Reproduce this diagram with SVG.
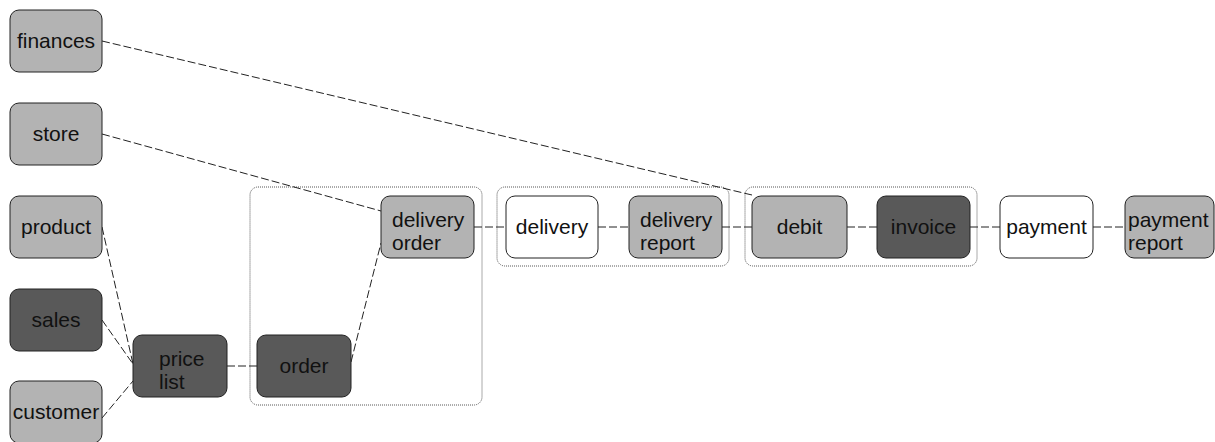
<svg xmlns="http://www.w3.org/2000/svg" width="1215" height="442" viewBox="0 0 1215 442">
<style>
.n{stroke:#222;stroke-width:1}
.lg{fill:#b3b3b3}
.dg{fill:#595959}
.wh{fill:#ffffff}
.grp{fill:none;stroke:#555;stroke-width:1;stroke-dasharray:1 1}
.c{fill:none;stroke:#222;stroke-width:1;stroke-dasharray:8 3}
text{font-family:"Liberation Sans",Arial,sans-serif;font-size:21px;fill:#111}
.m{text-anchor:middle}
</style>
<rect width="1215" height="442" fill="#fff"/>
<g id="groups">
<rect id="group-order" class="grp" x="250" y="187" width="232" height="218" rx="8"/>
<rect id="group-delivery" class="grp" x="497" y="187" width="232" height="79" rx="8"/>
<rect id="group-billing" class="grp" x="745" y="187" width="232" height="79" rx="8"/>
</g>
<g id="connectors">
<line class="c" x1="102" y1="41" x2="752" y2="195"/>
<line class="c" x1="102" y1="134" x2="381" y2="211"/>
<line class="c" x1="102" y1="227" x2="133" y2="364"/>
<line class="c" x1="102" y1="320" x2="133" y2="364"/>
<line class="c" x1="102" y1="418" x2="133" y2="381"/>
<line class="c" x1="227" y1="366" x2="257" y2="366"/>
<line class="c" x1="351" y1="362" x2="381" y2="243"/>
<line class="c" x1="474" y1="227" x2="506" y2="227"/>
<line class="c" x1="598" y1="227" x2="629" y2="227"/>
<line class="c" x1="722" y1="227" x2="752" y2="227"/>
<line class="c" x1="847" y1="227" x2="877" y2="227"/>
<line class="c" x1="970" y1="227" x2="1000" y2="227"/>
<line class="c" x1="1093" y1="227" x2="1125" y2="227"/>
</g>
<g id="finances"><rect class="n lg" x="10" y="10" width="92" height="62" rx="9"/><text class="m" x="56" y="48">finances</text></g>
<g id="store"><rect class="n lg" x="10" y="103" width="92" height="62" rx="9"/><text class="m" x="56" y="141">store</text></g>
<g id="product"><rect class="n lg" x="10" y="196" width="92" height="62" rx="9"/><text class="m" x="56" y="234">product</text></g>
<g id="sales"><rect class="n dg" x="10" y="289" width="92" height="62" rx="9"/><text class="m" x="56" y="327">sales</text></g>
<g id="customer"><rect class="n lg" x="10" y="381" width="92" height="62" rx="9"/><text class="m" x="56" y="419">customer</text></g>
<g id="price-list"><rect class="n dg" x="133" y="335" width="94" height="62" rx="9"/><text x="159" y="366">price</text><text x="159" y="389">list</text></g>
<g id="order"><rect class="n dg" x="257" y="335" width="94" height="62" rx="9"/><text class="m" x="304" y="373">order</text></g>
<g id="delivery-order"><rect class="n lg" x="381" y="196" width="93" height="62" rx="9"/><text x="392" y="227">delivery</text><text x="392" y="250">order</text></g>
<g id="delivery"><rect class="n wh" x="506" y="196" width="92" height="62" rx="9"/><text class="m" x="552" y="234">delivery</text></g>
<g id="delivery-report"><rect class="n lg" x="629" y="196" width="93" height="62" rx="9"/><text x="640" y="227">delivery</text><text x="640" y="250">report</text></g>
<g id="debit"><rect class="n lg" x="752" y="196" width="95" height="62" rx="9"/><text class="m" x="799.5" y="234">debit</text></g>
<g id="invoice"><rect class="n dg" x="877" y="196" width="93" height="62" rx="9"/><text class="m" x="923.5" y="234">invoice</text></g>
<g id="payment"><rect class="n wh" x="1000" y="196" width="93" height="62" rx="9"/><text class="m" x="1046.5" y="234">payment</text></g>
<g id="payment-report"><rect class="n lg" x="1125" y="196" width="89" height="62" rx="9"/><text x="1128" y="227">payment</text><text x="1128" y="250">report</text></g>
</svg>
